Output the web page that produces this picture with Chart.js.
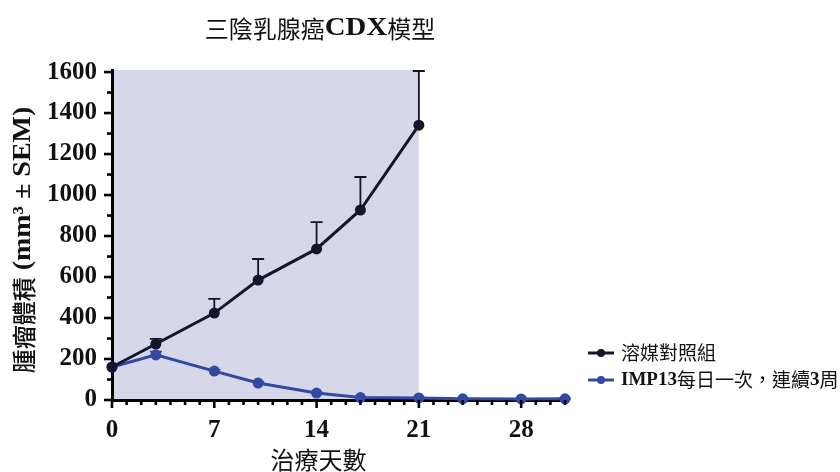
<!DOCTYPE html>
<html lang="zh-Hant">
<head>
<meta charset="UTF-8">
<title>三陰乳腺癌CDX模型</title>
<script src="https://cdn.jsdelivr.net/npm/chart.js"></script>
<style>
    html, body { margin: 0; padding: 0; background: #fff; }
</style>
</head>
<body>
<canvas id="cdxChart" width="840" height="472"></canvas>
<script>
// tumour volume (mm3) by treatment day
const days = [0, 3, 7, 10, 14, 17, 21, 24, 28, 31];
const vehicleMean = [161, 273, 424, 585, 737, 927, 1341];
const vehicleSem = [0, 25, 69, 103, 131, 161, 264];
const impMean = [161, 220, 141, 83, 34, 12, 10, 6, 5, 6];
const impSem = [0, 16, 6, 5, 3, 2, 2, 1, 1, 1];
const xTicks = [0, 7, 14, 21, 28];
const yTicks = [0, 200, 400, 600, 800, 1000, 1200, 1400, 1600];
const dosingWindow = [0, 21];

const seriesNames = ['溶媒對照組', 'IMP13每日一次，連續3周'];
const chartTitle = '三陰乳腺癌CDX模型';
const xTitle = '治療天數';
const yTitle = '腫瘤體積 (mm³ ± SEM)';

const BLACK = '#14142c';
const BLUE = '#3248a2';
const SHADE = '#d7d7ea';

const sems = [vehicleSem, impSem];

// split text into CJK / latin runs so each gets its own font
function splitRuns(text) {
    const out = [];
    for (const ch of text) {
        const cjk = /[\u3000-\u9fff\uff00-\uffef]/.test(ch);
        const last = out[out.length - 1];
        if (last && last.cjk === cjk) last.t += ch;
        else out.push({ t: ch, cjk });
    }
    return out;
}

function drawMixed(ctx, text, x, y, cjkSize, latSize, align, stretch, cjkWeight) {
    stretch = stretch || 1;
    cjkWeight = cjkWeight || 400;
    const parts = splitRuns(text);
    const fontOf = p => p.cjk
        ? `${cjkWeight} ${cjkSize}px 'Noto Sans CJK TC'`
        : `bold ${latSize}px 'Liberation Serif'`;
    let total = 0;
    parts.forEach(p => {
        ctx.font = fontOf(p);
        p.w = ctx.measureText(p.t).width * (p.cjk ? 1 : stretch);
        total += p.w;
    });
    let cx = align === 'center' ? x - total / 2 : x;
    ctx.textBaseline = 'middle';
    ctx.textAlign = 'left';
    parts.forEach(p => {
        ctx.font = fontOf(p);
        ctx.save();
        ctx.translate(cx, y);
        if (!p.cjk) ctx.scale(stretch, 1);
        ctx.fillText(p.t, 0, 0);
        ctx.restore();
        cx += p.w;
    });
}

const decorations = {
    id: 'decorations',
    beforeDraw(chart) {
        const { ctx, scales: { x, y } } = chart;
        ctx.save();
        ctx.fillStyle = SHADE;
        const left = x.getPixelForValue(dosingWindow[0]);
        const right = x.getPixelForValue(dosingWindow[1]);
        ctx.fillRect(left, y.top, right - left, y.bottom - y.top);
        ctx.restore();
    },
    beforeDatasetsDraw(chart) {
        // upper SEM whiskers
        const { ctx, scales: { x, y } } = chart;
        ctx.save();
        chart.data.datasets.forEach((ds, i) => {
            ctx.strokeStyle = ds.borderColor;
            ctx.lineWidth = 1.8;
            ds.data.forEach((pt, j) => {
                const s = sems[i][j];
                if (!s) return;
                const px = x.getPixelForValue(pt.x);
                const y0 = y.getPixelForValue(pt.y);
                const y1 = y.getPixelForValue(pt.y + s);
                ctx.beginPath();
                ctx.moveTo(px, y0);
                ctx.lineTo(px, y1);
                ctx.moveTo(px - 6, y1);
                ctx.lineTo(px + 6, y1);
                ctx.stroke();
            });
        });
        ctx.restore();
    },
    afterDraw(chart) {
        const { ctx, scales: { x, y } } = chart;
        ctx.save();
        ctx.strokeStyle = '#000';
        ctx.lineWidth = 2.6;
        // x ticks: every day, longer at labelled days
        for (let d = 0; d <= x.max; d++) {
            const px = x.getPixelForValue(d);
            const len = xTicks.includes(d) ? 8 : 5;
            ctx.beginPath();
            ctx.moveTo(px, x.top);
            ctx.lineTo(px, x.top + len);
            ctx.stroke();
        }
        // y ticks: every 100, longer at labelled values
        for (let v = 0; v <= yTicks[yTicks.length - 1]; v += 100) {
            const py = y.getPixelForValue(v);
            const len = yTicks.includes(v) ? 8 : 5;
            ctx.beginPath();
            ctx.moveTo(y.right, py);
            ctx.lineTo(y.right - len, py);
            ctx.stroke();
        }

        ctx.fillStyle = '#111';
        drawMixed(ctx, chartTitle, 320, 29, 24, 25, 'center', 1.15);
        drawMixed(ctx, xTitle, (x.left + x.right) / 2 - 20, 460, 24, 24, 'center');

        ctx.save();
        ctx.translate(24, 240);
        ctx.rotate(-Math.PI / 2);
        drawMixed(ctx, yTitle, 0, 0, 24, 25, 'center', 1.12, 500);
        ctx.restore();

        // legend
        chart.data.datasets.forEach((ds, i) => {
            const ly = 353 + i * 27;
            ctx.strokeStyle = ds.borderColor;
            ctx.fillStyle = ds.borderColor;
            ctx.lineWidth = 3;
            ctx.beginPath();
            ctx.moveTo(588, ly);
            ctx.lineTo(614, ly);
            ctx.stroke();
            ctx.beginPath();
            ctx.arc(601, ly, 4, 0, Math.PI * 2);
            ctx.fill();
            ctx.fillStyle = '#111';
            drawMixed(ctx, seriesNames[i], 621, ly, 19, 19, 'left');
        });
        ctx.restore();
    }
};

const tickFont = { family: "'Liberation Serif'", weight: 'bold', size: 25 };

new Chart(document.getElementById('cdxChart'), {
    type: 'line',
    data: {
        datasets: [
            {
                label: seriesNames[0],
                data: vehicleMean.map((v, i) => ({ x: days[i], y: v })),
                borderColor: BLACK,
                backgroundColor: BLACK,
                borderWidth: 3,
                pointRadius: 5.5,
                pointBorderWidth: 0,
                clip: false
            },
            {
                label: seriesNames[1],
                data: impMean.map((v, i) => ({ x: days[i], y: v })),
                borderColor: BLUE,
                backgroundColor: BLUE,
                borderWidth: 3,
                pointRadius: 5.5,
                pointBorderWidth: 0,
                clip: false
            }
        ]
    },
    options: {
        responsive: false,
        animation: false,
        layout: { padding: { top: 70, right: 275, left: 0, bottom: 0 } },
        plugins: {
            legend: { display: false },
            title: { display: false },
            tooltip: { enabled: false }
        },
        scales: {
            x: {
                type: 'linear',
                min: 0,
                max: 31,
                afterBuildTicks: s => { s.ticks = xTicks.map(v => ({ value: v })); },
                afterFit: s => { s.height = 72; },
                grid: { drawOnChartArea: false, tickLength: 8, tickColor: 'transparent' },
                border: { color: '#000', width: 3 },
                ticks: { font: tickFont, color: '#111', padding: 8, maxRotation: 0, callback: v => String(v) }
            },
            y: {
                min: 0,
                max: 1610,
                afterBuildTicks: s => { s.ticks = yTicks.map(v => ({ value: v })); },
                afterFit: s => { s.width = 112; },
                grid: { drawOnChartArea: false, tickLength: 8, tickColor: 'transparent' },
                border: { color: '#000', width: 3 },
                ticks: { font: tickFont, color: '#111', padding: 7, callback: v => String(v) }
            }
        }
    },
    plugins: [decorations]
});
</script>
</body>
</html>
